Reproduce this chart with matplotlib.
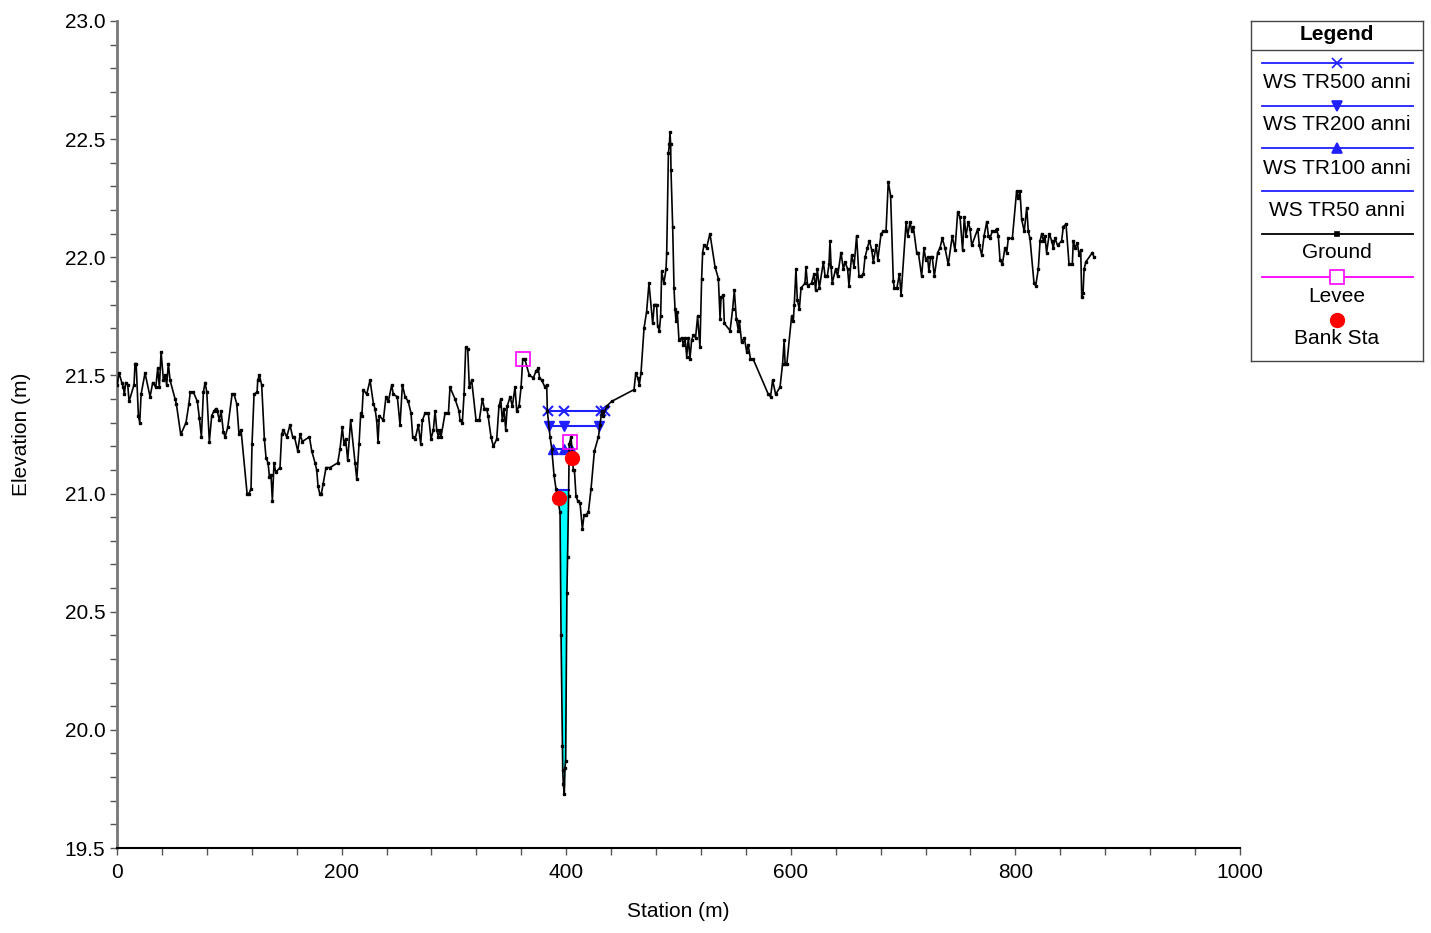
import numpy as np
import matplotlib
matplotlib.use("Agg")
import matplotlib.pyplot as plt
from matplotlib.ticker import MultipleLocator

plt.rcParams['font.family'] = ['Liberation Sans', 'DejaVu Sans']

# ground profile (station m, elevation m)
ground_sta = [0, 1.8, 4.2, 5.6, 6.5, 7.7, 9.5, 10.7, 15.1, 16.0, 17.0, 19.0, 20.2, 21.4, 24.9, 29.4,
              31.8, 34.5, 36.2, 37.7, 39.2, 41.3, 42.8, 44.2, 45.7, 47.2, 51.6, 52.8, 56.7, 61.4, 64.0,
              65.2, 67.9, 71.5, 73.3, 75.1, 76.9, 78.4, 79.9, 82.2, 84.3, 86.4, 88.2, 89.2, 91.1, 92.6,
              94.7, 96.2, 98.6, 102.4, 104.2, 106.6, 108.6, 110.4, 115.8, 117.5, 119.3, 120.2, 122.0,
              124.7, 125.3, 126.7, 128.8, 131.2, 132.7, 134.5, 135.7, 137.1, 138.3, 139.8, 141.3, 145.1,
              146.6, 148.1, 151.1, 154.0, 156.4, 158.0, 160.9, 163.0, 165.0, 171.3, 173.4, 176.3, 177.8,
              179.0, 180.5, 182.0, 183.5, 186.1, 189.7, 196.5, 198.6, 200.6, 202.1, 203.6, 205.4, 208.0,
              211.9, 213.5, 215.5, 217.0, 218.0, 219.3, 222.3, 225.3, 228.3, 229.7, 231.2, 232.4, 233.6,
              237.1, 239.5, 241.6, 244.6, 246.0, 249.6, 252.0, 254.1, 256.5, 259.3, 261.8, 263.3, 265.4,
              268.3, 270.4, 271.9, 274.3, 277.2, 279.6, 281.7, 283.2, 284.7, 286.1, 287.6, 288.5, 292.1,
              295.1, 296.5, 301.0, 304.5, 305.4, 307.5, 309.0, 310.5, 312.3, 313.7, 315.8, 319.7, 322.6,
              325.3, 327.1, 329.1, 330.4, 333.0, 335.1, 338.1, 340.1, 341.7, 343.1, 344.6, 346.1, 347.5,
              350.0, 352.0, 354.4, 355.9, 358.0, 359.8, 361.3, 363.0, 367.2, 370.8, 373.2, 375.2, 376.2,
              378.2, 381.1, 382.6, 383.2, 385.6, 387.1, 389.1, 390.9, 394.5, 395.4, 396.6, 396.9, 397.4,
              398.3, 398.9, 399.5, 400.6, 401.2, 402.1, 402.7, 404.3, 406.3, 407.3, 408.7, 410.2, 412.3,
              414.4, 415.9, 417.4, 419.7, 422.1, 425.1, 428.7, 430.1, 431.6, 433.0, 436.0, 440.4, 460.4,
              461.9, 463.7, 465.1, 466.6, 469.3, 471.6, 473.7, 477.0, 478.4, 480.5, 481.4, 482.9, 484.1,
              485.0, 487.0, 488.9, 489.5, 491.0, 491.9, 492.4, 493.0, 493.3, 494.8, 496.0, 496.9, 497.8,
              498.9, 500.4, 502.8, 504.3, 505.8, 507.3, 508.8, 510.2, 511.7, 513.2, 515.2, 517.0, 519.1,
              520.6, 521.5, 522.6, 525.0, 528.0, 532.5, 535.5, 537.0, 537.9, 539.9, 540.8, 545.9, 548.2,
              549.7, 551.5, 553.3, 554.2, 556.2, 558.6, 560.7, 562.0, 564.1, 566.4, 580.0, 582.0, 583.8,
              586.5, 590.4, 592.7, 594.1, 594.9, 596.5, 600.7, 602.2, 603.1, 604.6, 605.8, 607.6, 609.1,
              612.6, 613.5, 615.0, 618.5, 620.7, 622.1, 623.6, 625.4, 629.0, 630.5, 632.5, 634.0, 634.9,
              635.9, 636.9, 639.9, 641.7, 644.7, 646.8, 648.3, 650.6, 651.8, 654.2, 656.3, 658.6, 660.7,
              662.5, 664.6, 666.1, 668.2, 670.0, 672.1, 673.5, 676.0, 677.5, 680.4, 682.5, 684.8, 686.8,
              688.9, 691.3, 692.2, 694.5, 696.7, 698.2, 702.7, 704.1, 706.2, 707.7, 709.1, 712.1, 713.6,
              716.5, 718.6, 720.1, 721.8, 723.0, 724.5, 726.0, 727.8, 730.8, 732.9, 734.9, 737.3, 740.2,
              743.8, 746.2, 748.6, 750.7, 753.0, 754.5, 756.0, 758.1, 759.6, 761.1, 766.5, 767.9, 770.0,
              772.1, 774.5, 776.0, 777.4, 779.4, 781.5, 783.3, 784.8, 786.3, 788.4, 790.7, 792.3, 793.7,
              797.3, 801.1, 802.5, 804.1, 805.6, 807.9, 810.1, 811.5, 813.0, 816.6, 818.1, 820.4, 822.0,
              823.5, 825.0, 826.3, 827.8, 830.2, 832.3, 833.7, 835.3, 837.6, 841.2, 842.7, 845.1, 847.8,
              850.7, 851.6, 853.1, 855.2, 856.7, 858.2, 859.1, 860.3, 861.2, 862.7, 868.6, 870.1]
ground_elev = [21.46, 21.51, 21.47, 21.45, 21.42, 21.47, 21.46, 21.39, 21.46, 21.55, 21.55, 21.33, 21.30,
               21.42, 21.51, 21.41, 21.47, 21.45, 21.53, 21.45, 21.60, 21.48, 21.50, 21.46, 21.55, 21.48,
               21.40, 21.38, 21.25, 21.30, 21.38, 21.43, 21.43, 21.39, 21.32, 21.24, 21.43, 21.47, 21.43,
               21.22, 21.33, 21.35, 21.36, 21.35, 21.31, 21.35, 21.26, 21.24, 21.28, 21.42, 21.42, 21.38,
               21.25, 21.27, 21.00, 21.00, 21.02, 21.21, 21.42, 21.43, 21.48, 21.50, 21.46, 21.23, 21.15,
               21.13, 21.07, 21.08, 20.97, 21.13, 21.09, 21.11, 21.25, 21.27, 21.24, 21.29, 21.24, 21.24,
               21.18, 21.25, 21.22, 21.24, 21.18, 21.13, 21.10, 21.03, 21.00, 21.00, 21.04, 21.11, 21.11,
               21.13, 21.19, 21.28, 21.21, 21.23, 21.14, 21.31, 21.13, 21.06, 21.21, 21.34, 21.33, 21.44,
               21.42, 21.48, 21.38, 21.36, 21.31, 21.22, 21.33, 21.31, 21.41, 21.39, 21.46, 21.42, 21.41,
               21.29, 21.46, 21.41, 21.39, 21.34, 21.24, 21.23, 21.29, 21.21, 21.31, 21.34, 21.34, 21.23,
               21.27, 21.35, 21.27, 21.24, 21.27, 21.24, 21.34, 21.34, 21.45, 21.40, 21.35, 21.31, 21.30,
               21.42, 21.62, 21.61, 21.45, 21.48, 21.31, 21.31, 21.40, 21.36, 21.36, 21.33, 21.24, 21.20,
               21.23, 21.37, 21.40, 21.31, 21.36, 21.27, 21.37, 21.41, 21.37, 21.45, 21.35, 21.37, 21.45,
               21.57, 21.57, 21.50, 21.49, 21.52, 21.53, 21.49, 21.48, 21.45, 21.46, 21.35, 21.24, 21.19,
               21.08, 21.02, 20.92, 20.40, 19.93, 19.83, 19.77, 19.73, 19.84, 19.87, 20.58, 20.73, 20.99,
               21.21, 21.24, 21.10, 21.10, 20.99, 20.97, 20.96, 20.85, 20.91, 20.91, 20.92, 21.02, 21.18,
               21.24, 21.29, 21.35, 21.33, 21.37, 21.39, 21.44, 21.51, 21.49, 21.46, 21.51, 21.70, 21.77,
               21.89, 21.72, 21.80, 21.80, 21.71, 21.69, 21.75, 21.94, 21.89, 21.95, 22.02, 22.44, 22.48,
               22.53, 22.48, 22.37, 22.13, 21.87, 21.78, 21.73, 21.77, 21.65, 21.66, 21.63, 21.66, 21.58,
               21.66, 21.57, 21.65, 21.67, 21.66, 21.75, 21.62, 21.91, 22.02, 22.05, 22.04, 22.10, 21.96,
               21.91, 21.74, 21.83, 21.84, 21.72, 21.69, 21.78, 21.86, 21.74, 21.69, 21.73, 21.64, 21.66,
               21.60, 21.63, 21.57, 21.57, 21.42, 21.41, 21.48, 21.42, 21.45, 21.55, 21.65, 21.55, 21.55,
               21.75, 21.73, 21.80, 21.95, 21.82, 21.78, 21.87, 21.89, 21.96, 21.88, 21.89, 21.93, 21.86,
               21.95, 21.87, 21.98, 21.92, 21.92, 21.97, 22.07, 21.96, 21.89, 21.95, 21.92, 22.02, 21.95,
               21.98, 21.95, 21.88, 22.01, 21.96, 22.09, 21.92, 21.92, 21.93, 22.00, 22.04, 22.07, 22.03,
               21.98, 22.05, 21.99, 22.10, 22.11, 22.11, 22.32, 22.26, 21.90, 21.87, 21.87, 21.93, 21.84,
               22.15, 22.09, 22.15, 22.11, 22.13, 22.02, 22.02, 21.92, 22.04, 21.99, 22.00, 21.94, 22.00,
               22.00, 21.92, 22.02, 22.04, 22.08, 22.04, 21.97, 22.09, 22.03, 22.19, 22.17, 22.03, 22.17,
               22.09, 22.15, 22.12, 22.05, 22.12, 22.05, 22.01, 22.09, 22.15, 22.09, 22.08, 22.11, 22.11,
               22.12, 22.09, 21.99, 21.97, 22.04, 22.02, 22.08, 22.08, 22.28, 22.25, 22.28, 22.16, 22.11,
               22.21, 22.11, 22.08, 21.89, 21.88, 21.95, 22.07, 22.10, 22.07, 22.09, 22.02, 22.10, 22.07,
               22.04, 22.08, 22.05, 22.07, 22.13, 22.14, 21.97, 21.97, 22.07, 22.04, 22.06, 22.01, 22.03,
               21.83, 21.85, 21.95, 21.98, 22.02, 22.00]

# water surfaces
ws500_sta = [383.5, 398.3, 431.3, 434.5]
ws500_elev = 21.35
ws200_sta = [385.0, 398.3, 429.5]
ws200_elev = 21.285
ws100_sta = [388.0, 398.3, 404.0]
ws100_elev = 21.19
ws50_sta = [391.0, 402.1]
ws50_elev = 21.015

levee_sta = [361.3, 403.0]
levee_elev = [21.57, 21.22]
bank_sta = [393.6, 405.2]
bank_elev = [20.98, 21.15]

BLUE = '#2020ff'

fig = plt.figure(figsize=(14.31, 9.33), dpi=100)
ax = fig.add_axes([0.0818, 0.0911, 0.7847, 0.8864])

# TR50 water fill
xs = np.linspace(ws50_sta[0], ws50_sta[1], 400)
gs = np.interp(xs, ground_sta, ground_elev)
ax.fill_between(xs, gs, ws50_elev, where=gs < ws50_elev, color='#00ffff', lw=0, zorder=1)
ax.plot(ws50_sta, [ws50_elev] * 2, color=BLUE, lw=1.5, zorder=2)

ax.plot(ws500_sta, [ws500_elev] * len(ws500_sta), color=BLUE, lw=1.5, marker='x', ms=7, mew=1.5, zorder=3)
ax.plot(ws200_sta, [ws200_elev] * len(ws200_sta), color=BLUE, lw=1.5, marker='v', ms=7, zorder=3)
ax.plot(ws100_sta, [ws100_elev] * len(ws100_sta), color=BLUE, lw=1.5, marker='^', ms=7, zorder=3)

ax.plot(ground_sta, ground_elev, color='black', lw=1.2, marker='s', ms=1.8, zorder=4)
ax.plot(levee_sta, levee_elev, ls='none', marker='s', ms=10, mfc='none', mec='#ff00ff', mew=1.2, zorder=5)
ax.plot(bank_sta, bank_elev, ls='none', marker='o', ms=10, color='#ff0000', zorder=6)

ax.set_xlim(0, 1000)
ax.set_ylim(19.5, 23.0)
ax.xaxis.set_major_locator(MultipleLocator(200))
ax.xaxis.set_minor_locator(MultipleLocator(40))
ax.yaxis.set_major_locator(MultipleLocator(0.5))
ax.yaxis.set_minor_locator(MultipleLocator(0.1))
ax.yaxis.set_major_formatter(plt.FormatStrFormatter('%.1f'))
ax.tick_params(which='both', direction='out', length=5, width=1, color='#555555', labelsize=15)
ax.tick_params(axis='x', pad=6)
ax.spines['top'].set_visible(False)
ax.spines['right'].set_visible(False)
ax.spines['left'].set_color('#777777')
ax.spines['left'].set_linewidth(2)
ax.spines['bottom'].set_linewidth(1.5)
ax.set_xlabel('Station (m)', fontsize=15, labelpad=14)
ax.set_ylabel('Elevation (m)', fontsize=15, labelpad=24)

# legend box
lg = fig.add_axes([1251 / 1431, 1 - 361 / 933, 172 / 1431, 340 / 933])
lg.set_xlim(1251, 1423)
lg.set_ylim(361, 21)
lg.set_xticks([])
lg.set_yticks([])
for s in lg.spines.values():
    s.set_linewidth(1)
    s.set_color('#444444')
lg.text(1337, 34, 'Legend', ha='center', va='center', fontsize=15, fontweight='bold')
lg.axhline(50, color='#444444', lw=1)
entries = [('WS TR500 anni', BLUE, 'x', 63, 82),
           ('WS TR200 anni', BLUE, 'v', 106, 125),
           ('WS TR100 anni', BLUE, '^', 148, 168),
           ('WS TR50 anni', BLUE, None, 191, 210),
           ('Ground', 'black', 's', 234, 253)]
for name, col, mk, ly, ty in entries:
    lg.plot([1262, 1413], [ly, ly], color=col, lw=1.3)
    if mk:
        lg.plot([1337], [ly], color=col, marker=mk, ms=2.5 if mk == 's' else 7, mew=1.2)
    lg.text(1337, ty, name, ha='center', va='center', fontsize=15)
lg.plot([1262, 1413], [277, 277], color='#ff00ff', lw=1.3)
lg.plot([1337], [277], marker='s', ms=10, mfc='white', mec='#ff00ff', mew=1.2)
lg.text(1337, 296, 'Levee', ha='center', va='center', fontsize=15)
lg.plot([1337], [320], marker='o', ms=10, color='#ff0000')
lg.text(1337, 338, 'Bank Sta', ha='center', va='center', fontsize=15)

fig.savefig('out.png', dpi=100)
